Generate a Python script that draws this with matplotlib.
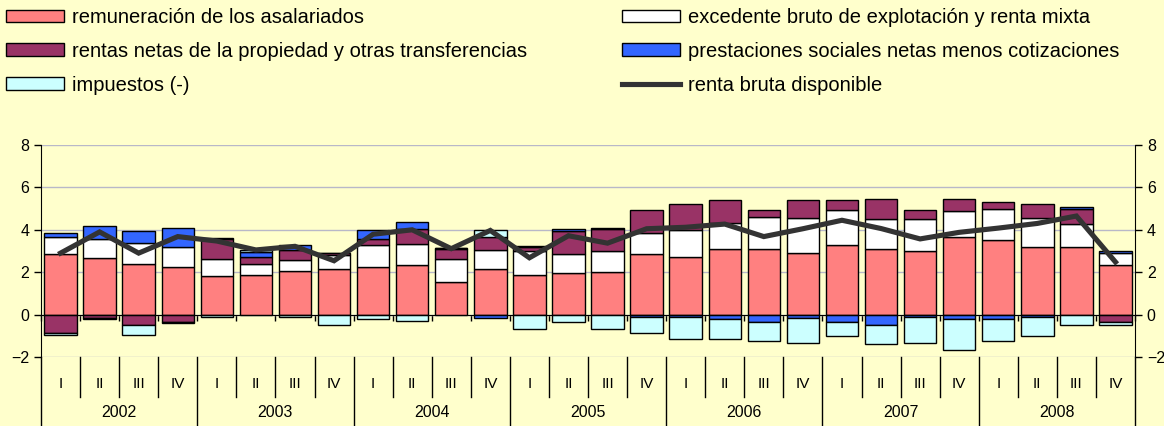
import numpy as np
import matplotlib
matplotlib.use("Agg")
import matplotlib.pyplot as plt
from matplotlib.patches import Patch
from matplotlib.lines import Line2D

plt.rcParams['font.family'] = ['Liberation Sans', 'DejaVu Sans']

years = ['2002', '2003', '2004', '2005', '2006', '2007', '2008']
quarters = ['I', 'II', 'III', 'IV']

# contribuciones (puntos porcentuales), 2002-I .. 2008-IV
remuneracion = [2.84, 2.67, 2.41, 2.24, 1.81, 1.85, 2.04, 2.17, 2.24, 2.35, 1.56, 2.16,
                1.85, 1.98, 2.03, 2.84, 2.71, 3.08, 3.08, 2.89, 3.27, 3.10, 3.02, 3.68,
                3.52, 3.21, 3.19, 2.35]
excedente = [0.84, 0.89, 0.99, 0.97, 0.82, 0.55, 0.55, 0.64, 1.03, 0.98, 1.06, 0.87,
             1.16, 0.86, 0.95, 1.00, 1.29, 1.24, 1.51, 1.68, 1.65, 1.41, 1.49, 1.22,
             1.46, 1.33, 1.06, 0.57]
rentas = [-0.87, -0.15, -0.49, -0.36, 0.94, 0.32, 0.48, 0.08, 0.30, 0.71, 0.48, 0.63,
          0.20, 1.08, 1.08, 1.08, 1.24, 1.08, 0.33, 0.83, 0.48, 0.95, 0.41, 0.56,
          0.32, 0.70, 0.75, -0.36]
prestaciones = [0.19, 0.63, 0.56, 0.86, 0.03, 0.23, 0.23, 0.03, 0.40, 0.33, 0.02, -0.16,
                0.04, 0.14, 0.02, -0.13, -0.13, -0.20, -0.37, -0.17, -0.37, -0.49, -0.13, -0.20,
                -0.20, -0.13, 0.08, 0.08]
impuestos = [-0.09, -0.05, -0.47, -0.02, -0.12, 0.08, -0.10, -0.49, -0.20, -0.32, 0.0, 0.35,
             -0.68, -0.37, -0.68, -0.74, -1.04, -0.97, -0.87, -1.18, -0.63, -0.91, -1.22, -1.47,
             -1.04, -0.87, -0.49, -0.13]
renta_bruta = [2.90, 3.90, 2.90, 3.68, 3.47, 3.05, 3.22, 2.54, 3.79, 4.00, 3.11, 3.97,
               2.68, 3.72, 3.37, 4.05, 4.12, 4.27, 3.68, 4.05, 4.45, 4.06, 3.57, 3.88,
               4.08, 4.30, 4.65, 2.48]

series = [
    ('remuneración de los asalariados', remuneracion, '#FF8080'),
    ('excedente bruto de explotación y renta mixta', excedente, '#FFFFFF'),
    ('rentas netas de la propiedad y otras transferencias', rentas, '#993366'),
    ('prestaciones sociales netas menos cotizaciones', prestaciones, '#3366FF'),
    ('impuestos (-)', impuestos, '#CCFFFF'),
]

bg = '#FFFFCC'
fig = plt.figure(figsize=(11.64, 4.26), dpi=100, facecolor=bg)
ax = fig.add_axes([41 / 1164, 1 - 357 / 426, (1135 - 41) / 1164, 212 / 426])
ax.set_facecolor(bg)

n = len(remuneracion)
x = np.arange(n)
pos_base = np.zeros(n)
neg_base = np.zeros(n)
for label, vals, color in series:
    v = np.array(vals)
    bottom = np.where(v >= 0, pos_base, neg_base)
    ax.bar(x, v, bottom=bottom, width=0.83, color=color, edgecolor='black',
           linewidth=1.0, zorder=3)
    pos_base += np.where(v >= 0, v, 0)
    neg_base += np.where(v < 0, v, 0)

ax.plot(x, renta_bruta, color='#333333', linewidth=3.7, zorder=5,
        solid_joinstyle='miter')

ax.set_xlim(-0.5, n - 0.5)
ax.set_ylim(-2, 8)
ax.set_yticks(range(-2, 9, 2))
ax.yaxis.grid(True, color='#B8B8C8', linewidth=1.0, zorder=0)
ax.tick_params(axis='y', which='both', direction='out', length=5, width=1,
               labelsize=11.5, right=True, labelright=True, left=True, labelleft=True)
ax.spines['top'].set_visible(False)
ax.spines['bottom'].set_position(('data', 0))
ax.spines['bottom'].set_zorder(4)
ax.set_xticks(np.arange(n + 1) - 0.5)
ax.set_xticklabels([])
ax.tick_params(axis='x', direction='out', length=4, width=1)

# category table below the plot
tr = ax.get_xaxis_transform()
for i in range(n):
    ax.text(i, -0.125, quarters[i % 4], transform=tr, ha='center', va='center',
            fontsize=11)
for k in range(n + 1):
    b = k - 0.5
    top_len = -0.33 if k % 4 == 0 else -0.19
    ax.add_line(Line2D([b, b], [0, top_len], transform=tr, color='black',
                       linewidth=1.0, clip_on=False))
for j, yr in enumerate(years):
    ax.text(4 * j + 1.5, -0.262, yr, transform=tr, ha='center', va='center',
            fontsize=11.5)

# legend
handles = [Patch(facecolor=c, edgecolor='black', linewidth=1.0, label=l)
           for l, _, c in series]
line_h = Line2D([], [], color='#333333', linewidth=3.7, label='renta bruta disponible')
left = [handles[0], handles[2], handles[4]]
right = [handles[1], handles[3], line_h]
kw = dict(frameon=False, fontsize=14.5, handlelength=2.9, handleheight=0.6,
          handletextpad=0.4, labelspacing=0.74, borderaxespad=0, borderpad=0)
fig.legend(handles=left, loc='upper left', bbox_to_anchor=(6 / 1164, 1 - 8 / 426), **kw)
fig.legend(handles=right, loc='upper left', bbox_to_anchor=(622 / 1164, 1 - 8 / 426), **kw)

fig.savefig('out.png', dpi=100, facecolor=bg)
